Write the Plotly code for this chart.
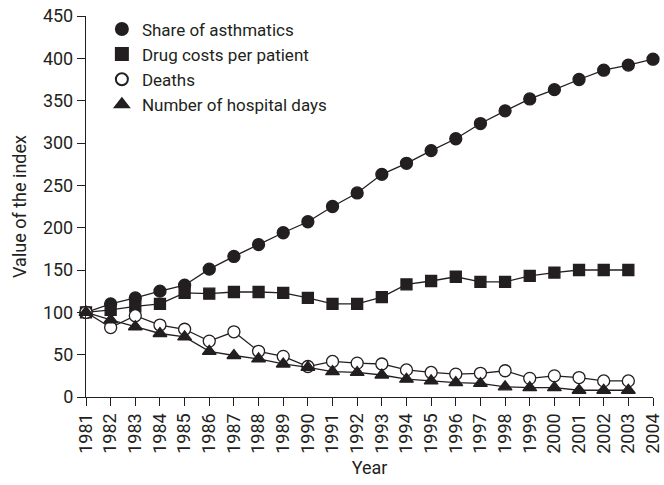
import plotly.graph_objects as go

years = list(range(1981, 2005))
share_asthmatics = [100, 110, 117, 125, 132, 151, 166, 180, 194, 207, 225, 241, 263, 276, 291, 305, 323, 338, 352, 363, 375, 386, 392, 399]
drug_costs = [100, 103, 107, 110, 123, 122, 124, 124, 123, 117, 110, 110, 118, 133, 137, 142, 136, 136, 143, 147, 150, 150, 150]
deaths = [100, 82, 96, 85, 80, 66, 77, 54, 48, 36, 42, 40, 39, 32, 29, 27, 28, 31, 22, 25, 23, 19, 19]
hospital_days = [100, 91, 83, 75, 71, 54, 49, 45, 39, 35, 30, 29, 26, 21, 19, 17, 16, 12, 11, 11, 8, 8, 8]
y_ticks = [0, 50, 100, 150, 200, 250, 300, 350, 400, 450]

INK = "#231f20"
FONT = "Roboto"

fig = go.Figure()
series = [
    ("Share of asthmatics", share_asthmatics, "circle", INK, 12),
    ("Drug costs per patient", drug_costs, "square", INK, 11),
    ("Deaths", deaths, "circle", "white", 12),
    ("Number of hospital days", hospital_days, "triangle-up", INK, 12),
]
for name, vals, sym, fill, sz in series:
    fig.add_trace(go.Scatter(
        x=years[:len(vals)], y=vals, name=name, mode="lines+markers",
        line=dict(color=INK, width=1.3),
        marker=dict(symbol=sym, size=sz, color=fill, line=dict(color=INK, width=1.3)),
        cliponaxis=False, showlegend=False,
    ))
# legend entries (markers only, as in the reference)
for name, vals, sym, fill, sz in series:
    fig.add_trace(go.Scatter(
        x=[None], y=[None], name=name, mode="markers",
        marker=dict(symbol=sym, size=sz - 1, color=fill, line=dict(color=INK, width=1.3)),
        showlegend=True,
    ))

fig.update_layout(
    width=664, height=485,
    margin=dict(l=86, r=11, t=16, b=88),
    paper_bgcolor="white", plot_bgcolor="white",
    font=dict(family=FONT, size=17, color=INK),
    showlegend=True,
    legend=dict(x=0.028, y=1.012, xanchor="left", yanchor="top",
                bgcolor="rgba(0,0,0,0)", font=dict(size=17, family=FONT, color=INK),
                itemsizing="constant", tracegroupgap=0, itemwidth=30),
    xaxis=dict(
        range=[1981, 2004], tickmode="array", tickvals=years,
        ticktext=[str(y) for y in years], tickangle=-90,
        ticklabeloverflow="allow",
        showline=True, linecolor=INK, linewidth=1.3,
        ticks="outside", ticklen=8, tickcolor=INK, tickwidth=1.3,
        showgrid=False, zeroline=False, automargin=False,
        title=dict(text="Year", font=dict(size=18), standoff=8),
        tickfont=dict(size=18),
    ),
    yaxis=dict(
        range=[0, 450], tickmode="array", tickvals=y_ticks,
        ticklabeloverflow="allow",
        showline=True, linecolor=INK, linewidth=1.3,
        ticks="outside", ticklen=8, tickcolor=INK, tickwidth=1.3,
        showgrid=False, zeroline=False, automargin=False,
        title=dict(text="Value of the index", font=dict(size=18), standoff=11),
        tickfont=dict(size=18),
    ),
)

# remove the default 8px page margin so the figure fills the window exactly
fig.write_html("out.html", config={"displayModeBar": False},
               post_script="document.body.style.margin='0';")
